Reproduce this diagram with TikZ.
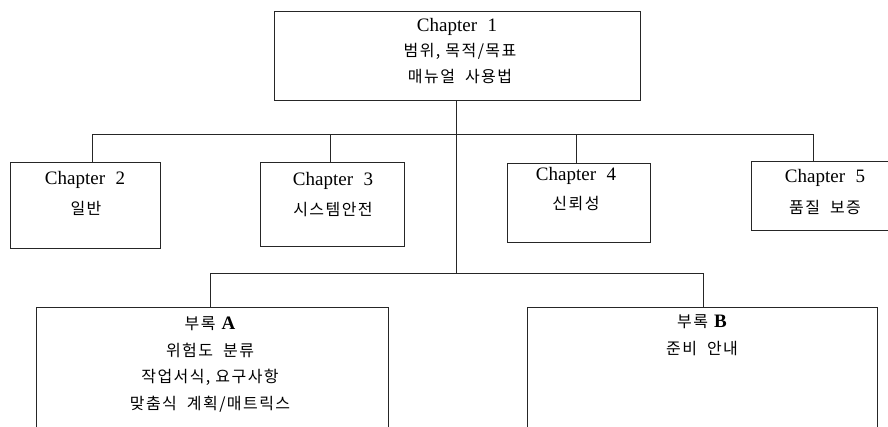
\documentclass[tikz,border=0pt]{standalone}
\usepackage{fontspec}
\setmainfont{Liberation Serif}
\newfontfamily\kr[LetterSpace=9]{Noto Sans CJK KR}
\newcommand{\chp}[1]{Chapter\hspace{0.55em}#1}
\begin{document}
\begin{tikzpicture}[x=1pt,y=-1pt,
  boxst/.style={draw=black!85,line width=0.8pt,inner sep=0pt,anchor=north west},
  txt/.style={inner sep=0pt,font=\fontsize{19}{22}\selectfont},
  ktxt/.style={inner sep=0pt,font=\kr\fontsize{16}{18}\selectfont},
  conn/.style={draw=black!85,line width=0.8pt}]
\useasboundingbox (0,0) rectangle (888,426);
\clip (0,0) rectangle (888,426);
% boxes
\node[boxst,minimum width=366pt,minimum height=89pt] (c1) at (274,11) {};
\node[boxst,minimum width=150pt,minimum height=86pt] (c2) at (10,162) {};
\node[boxst,minimum width=144pt,minimum height=84pt] (c3) at (260,162) {};
\node[boxst,minimum width=143pt,minimum height=79pt] (c4) at (507,163) {};
\node[boxst,minimum width=150pt,minimum height=69pt] (c5) at (751,161) {};
\node[boxst,minimum width=352pt,minimum height=140pt] (pa) at (36,307) {};
\node[boxst,minimum width=350pt,minimum height=140pt] (pb) at (527,307) {};
% texts
\node[txt] (t1a) at (457,27) {\chp{1}};
\node[ktxt] (t1b) at (460,51) {범위, 목적/목표};
\node[ktxt] (t1c) at (460,77) {매뉴얼\ \ 사용법};
\node[txt] (t2a) at (85,180) {\chp{2}};
\node[ktxt] (t2b) at (86,208) {일반};
\node[txt] (t3a) at (333,181) {\chp{3}};
\node[ktxt] (t3b) at (333,210) {시스템안전};
\node[txt] (t4a) at (576,176) {\chp{4}};
\node[ktxt] (t4b) at (576,204) {신뢰성};
\node[txt] (t5a) at (825,178) {\chp{5}};
\node[ktxt] (t5b) at (825,207) {품질\ \ 보증};
\node[txt] (tAa) at (210,324) {{\kr\fontsize{16}{18}\selectfont 부록}\ \textbf{A}};
\node[ktxt] (tAb) at (210,350) {위험도\ \ 분류};
\node[ktxt] (tAc) at (210,377) {작업서식, 요구사항};
\node[ktxt] (tAd) at (210,404) {맞춤식\ \ 계획/매트릭스};
\node[txt] (tBa) at (702,322) {{\kr\fontsize{16}{18}\selectfont 부록}\ \textbf{B}};
\node[ktxt] (tBb) at (702,349) {준비\ \ 안내};
% junction coordinates
\coordinate (j1) at (456,134);
\coordinate (jL) at (92,134);
\coordinate (jR) at (813,134);
\coordinate (k1) at (456,273);
\coordinate (kL) at (210,273);
\coordinate (kR) at (703,273);
\coordinate (j3) at (330,134);
\coordinate (j4) at (576,134);
% connectors
\draw[conn] (c1.south -| j1) -- (k1);
\draw[conn] (jL) -- (jR);
\draw[conn] (jL) -- (jL |- c2.north);
\draw[conn] (j3) -- (j3 |- c3.north);
\draw[conn] (j4) -- (j4 |- c4.north);
\draw[conn] (jR) -- (jR |- c5.north);
\draw[conn] (kL) -- (kR);
\draw[conn] (kL) -- (kL |- pa.north);
\draw[conn] (kR) -- (kR |- pb.north);
\end{tikzpicture}
\end{document}
